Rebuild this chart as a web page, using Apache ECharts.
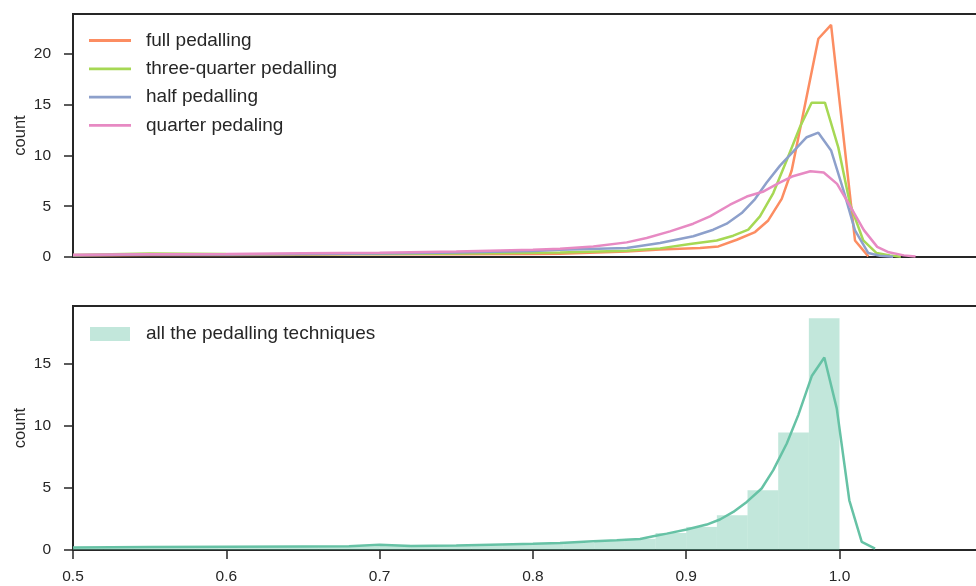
<!DOCTYPE html>
<html>
<head>
<meta charset="utf-8">
<script src="https://cdn.jsdelivr.net/npm/echarts@6/dist/echarts.min.js"></script>
<style>
  html, body { margin: 0; padding: 0; background: #fff; }
  #chart { width: 976px; height: 586px; }
</style>
</head>
<body>
<div id="chart"></div>
<script>
// Density curves per pedalling technique: [x, count]
const fullPedalling = [
  [0.50, 0.15], [0.55, 0.20], [0.60, 0.20], [0.65, 0.22], [0.70, 0.30], [0.75, 0.28], [0.80, 0.30],
  [0.8177, 0.32], [0.8612, 0.55], [0.8829, 0.75], [0.909, 0.89], [0.921, 1.04], [0.933, 1.70],
  [0.9449, 2.46], [0.9535, 3.60], [0.9623, 5.72], [0.9688, 8.52], [0.9775, 15.0], [0.9862, 21.5],
  [0.9945, 22.86], [1.0101, 1.63], [1.0188, 0.06]
];
const threeQuarterPedalling = [
  [0.50, 0.20], [0.55, 0.35], [0.60, 0.30], [0.65, 0.28], [0.70, 0.30], [0.75, 0.35], [0.80, 0.42],
  [0.8177, 0.45], [0.8612, 0.62], [0.8829, 0.85], [0.9025, 1.28], [0.9199, 1.63], [0.9307, 2.10],
  [0.9405, 2.69], [0.9481, 4.0], [0.9568, 6.3], [0.9655, 9.5], [0.9742, 12.8], [0.9818, 15.2],
  [0.9905, 15.2], [0.9992, 10.8], [1.0068, 5.25], [1.0155, 1.63], [1.0242, 0.39], [1.0329, 0.16],
  [1.040, 0.02]
];
const halfPedalling = [
  [0.50, 0.18], [0.55, 0.25], [0.60, 0.25], [0.65, 0.30], [0.70, 0.35], [0.75, 0.45], [0.80, 0.60],
  [0.8177, 0.72], [0.8612, 0.89], [0.8829, 1.38], [0.9046, 2.05], [0.9177, 2.69], [0.9264, 3.28],
  [0.9362, 4.33], [0.9449, 5.71], [0.9525, 7.34], [0.9612, 9.0], [0.9699, 10.4], [0.9786, 11.8],
  [0.9862, 12.25], [0.9945, 10.5], [1.0026, 6.56], [1.0101, 2.62], [1.0188, 0.39], [1.0264, 0.13],
  [1.035, 0.02]
];
const quarterPedaling = [
  [0.50, 0.22], [0.55, 0.28], [0.60, 0.30], [0.65, 0.38], [0.70, 0.42], [0.75, 0.55], [0.80, 0.72],
  [0.8177, 0.82], [0.8394, 1.04], [0.8612, 1.44], [0.8742, 1.87], [0.8894, 2.52], [0.9046, 3.28],
  [0.9155, 4.0], [0.9286, 5.15], [0.9395, 5.96], [0.9505, 6.46], [0.9603, 7.28], [0.969, 7.93],
  [0.981, 8.45], [0.9897, 8.33], [0.9984, 7.2], [1.0072, 4.95], [1.0159, 2.65], [1.0246, 1.0],
  [1.0322, 0.46], [1.042, 0.16], [1.0496, 0.05]
];

// Histogram of all techniques: [bin start, bin end, count]
const allBins = [
  [0.50, 0.52, 0.18], [0.52, 0.54, 0.20], [0.54, 0.56, 0.24], [0.56, 0.58, 0.22], [0.58, 0.60, 0.24],
  [0.60, 0.62, 0.26], [0.62, 0.64, 0.25], [0.64, 0.66, 0.28], [0.66, 0.68, 0.27], [0.68, 0.70, 0.30],
  [0.70, 0.72, 0.42], [0.72, 0.74, 0.30], [0.74, 0.76, 0.35], [0.76, 0.78, 0.38], [0.78, 0.80, 0.42],
  [0.80, 0.82, 0.50], [0.82, 0.84, 0.58], [0.84, 0.86, 0.72], [0.86, 0.88, 0.90], [0.88, 0.90, 1.37],
  [0.90, 0.92, 1.86], [0.92, 0.94, 2.80], [0.94, 0.96, 4.82], [0.96, 0.98, 9.48], [0.98, 1.00, 18.69]
];
// Density curve of all techniques: [x, count]
const allDensity = [
  [0.50, 0.20], [0.55, 0.25], [0.60, 0.26], [0.65, 0.28], [0.68, 0.30], [0.70, 0.42], [0.72, 0.33],
  [0.75, 0.37], [0.78, 0.45], [0.80, 0.50], [0.8177, 0.57], [0.8394, 0.70], [0.8547, 0.78],
  [0.8699, 0.89], [0.8785, 1.11], [0.8873, 1.32], [0.9003, 1.65], [0.9134, 2.05], [0.922, 2.46],
  [0.9307, 3.07], [0.9395, 3.88], [0.9492, 4.96], [0.9568, 6.44], [0.9656, 8.59], [0.9731, 10.88],
  [0.9819, 14.03], [0.9901, 15.53], [0.9982, 11.42], [1.0064, 4.01], [1.0145, 0.65], [1.0232, 0.11]
];

const xTicks = [0.5, 0.6, 0.7, 0.8, 0.9, 1.0];
const yTicksTop = [0, 5, 10, 15, 20];
const yTicksBottom = [0, 5, 10, 15];

const ink = '#262626';
const font = '"Liberation Sans", Arial, sans-serif';

function yAxis(gridIndex, max, ticks) {
  return {
    type: 'value', gridIndex, min: 0, max,
    name: 'count', nameLocation: 'middle', nameGap: 44, nameMoveOverlap: false,
    nameTextStyle: { fontSize: 16.5, color: ink, fontFamily: font },
    axisLine: { show: true, lineStyle: { color: ink, width: 2 } },
    axisTick: { show: true, length: 9, customValues: ticks, lineStyle: { color: ink, width: 1.5 } },
    axisLabel: { customValues: ticks, margin: 22, fontSize: 15.5, color: ink, fontFamily: font },
    splitLine: { show: false }
  };
}

function curve(name, data, color, xi, yi) {
  return {
    type: 'line', name, data, xAxisIndex: xi, yAxisIndex: yi,
    showSymbol: false, smooth: false, silent: true,
    lineStyle: { color, width: 2.5 }, itemStyle: { color }
  };
}

const chart = echarts.init(document.getElementById('chart'), null, { renderer: 'canvas' });
chart.setOption({
  animation: false,
  backgroundColor: '#fff',
  grid: [
    { left: 73, top: 14, width: 910, height: 243, show: true, borderColor: ink, borderWidth: 2,
      outerBoundsMode: 'none', containLabel: false },
    { left: 73, top: 306, width: 910, height: 244, show: true, borderColor: ink, borderWidth: 2,
      outerBoundsMode: 'none', containLabel: false }
  ],
  xAxis: [
    { type: 'value', gridIndex: 0, min: 0.5, max: 1.0936,
      axisLine: { show: false }, axisTick: { show: false }, axisLabel: { show: false }, splitLine: { show: false } },
    { type: 'value', gridIndex: 1, min: 0.5, max: 1.0936,
      axisLine: { show: true, lineStyle: { color: ink, width: 2 } },
      axisTick: { show: true, length: 9, customValues: xTicks, lineStyle: { color: ink, width: 1.5 } },
      axisLabel: { customValues: xTicks, margin: 19, fontSize: 15.5, color: ink, fontFamily: font,
        formatter: v => v.toFixed(1) },
      splitLine: { show: false } }
  ],
  yAxis: [yAxis(0, 23.94, yTicksTop), yAxis(1, 19.68, yTicksBottom)],
  legend: [
    { left: 89, top: 30.5, orient: 'vertical', padding: 0, itemGap: 8.3,
      itemWidth: 42, itemHeight: 2.8, icon: 'rect',
      textStyle: { fontSize: 19, color: ink, fontFamily: font, lineHeight: 20, padding: [0, 0, 0, 10] },
      data: ['full pedalling', 'three-quarter pedalling', 'half pedalling', 'quarter pedaling'] },
    { left: 90, top: 324, orient: 'vertical', padding: 0,
      itemWidth: 40, itemHeight: 14, icon: 'rect',
      textStyle: { fontSize: 19, color: ink, fontFamily: font, lineHeight: 20, padding: [0, 0, 0, 11] },
      data: ['all the pedalling techniques'] }
  ],
  series: [
    curve('full pedalling', fullPedalling, '#fc8d62', 0, 0),
    curve('three-quarter pedalling', threeQuarterPedalling, '#a6d854', 0, 0),
    curve('half pedalling', halfPedalling, '#8da0cb', 0, 0),
    curve('quarter pedaling', quarterPedaling, '#e78ac3', 0, 0),
    {
      type: 'custom', name: 'all the pedalling techniques', xAxisIndex: 1, yAxisIndex: 1,
      data: allBins, encode: { x: [0, 1], y: 2 }, silent: true,
      itemStyle: { color: 'rgba(102,194,165,0.4)' },
      renderItem: (params, api) => {
        const base = api.coord([api.value(0), 0]);
        const top = api.coord([api.value(1), api.value(2)]);
        return {
          type: 'rect',
          shape: { x: base[0], y: top[1], width: top[0] - base[0], height: base[1] - top[1] },
          style: { fill: 'rgba(102,194,165,0.4)' }
        };
      }
    },
    Object.assign(curve('all density', allDensity, '#66c2a5', 1, 1), { legendHoverLink: false })
  ]
});
</script>
</body>
</html>
